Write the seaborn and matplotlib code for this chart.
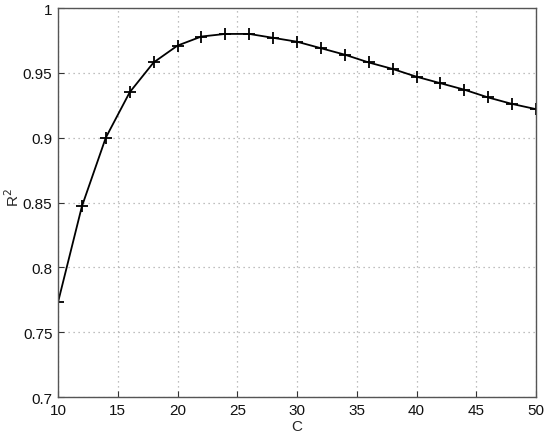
import matplotlib
matplotlib.use('Agg')
import matplotlib.pyplot as plt
import seaborn as sns
import pandas as pd

# Data
C = [10, 12, 14, 16, 18, 20, 22, 24, 26, 28, 30,
     32, 34, 36, 38, 40, 42, 44, 46, 48, 50]
R2 = [0.773, 0.847, 0.900, 0.935, 0.958, 0.971, 0.978, 0.980, 0.980, 0.977, 0.974,
      0.969, 0.964, 0.958, 0.953, 0.947, 0.942, 0.937, 0.931, 0.926, 0.922]

df = pd.DataFrame({'C': C, 'R2': R2})

sns.set_style('ticks')
plt.rcParams['font.family'] = ['Liberation Sans', 'DejaVu Sans']

fig = plt.figure(figsize=(5.5, 4.39), dpi=100)
ax = fig.add_axes([58 / 550, 1 - 398 / 439, 478 / 550, 389 / 439])

sns.lineplot(data=df, x='C', y='R2', ax=ax, color='black', linewidth=1.3,
             marker='+', markersize=8, markeredgewidth=1.3, markeredgecolor='black')

ax.set_xlim(10, 50)
ax.set_ylim(0.7, 1.0)
ax.set_xticks(range(10, 51, 5))
ax.set_yticks([0.7, 0.75, 0.8, 0.85, 0.9, 0.95, 1.0])
ax.set_yticklabels(['0.7', '0.75', '0.8', '0.85', '0.9', '0.95', '1'])
ax.grid(True, linestyle=(0, (1, 3)), color='#aaaaaa', linewidth=0.9)
ax.tick_params(direction='in', length=4, labelsize=11, colors='#333333', labelcolor='#111111', pad=4)
for s in ax.spines.values():
    s.set_color('#555555')
    s.set_linewidth(1.0)
    s.set_visible(True)

ax.set_xlabel('C', fontsize=11, labelpad=2)
ax.set_ylabel('R$^2$', fontsize=11)
ax.yaxis.set_label_coords(-0.075, 0.515)

plt.savefig('out.png', dpi=100)
plt.close()
